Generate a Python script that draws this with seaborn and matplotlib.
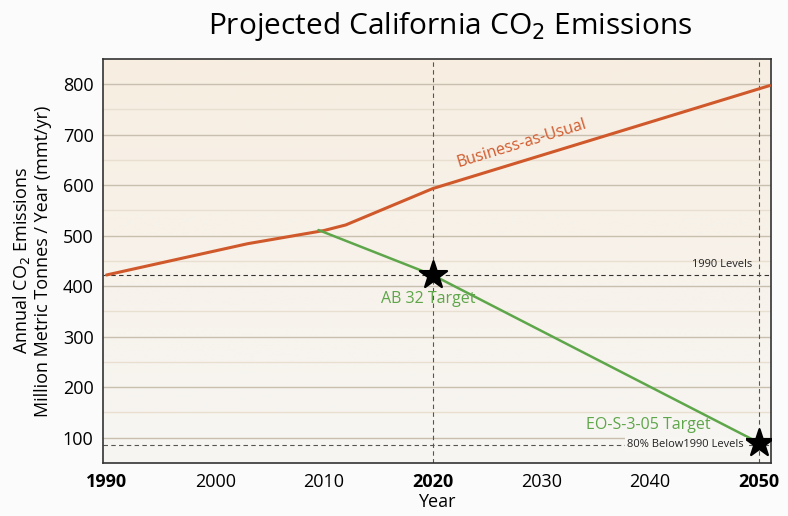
import numpy as np
import pandas as pd
import matplotlib
matplotlib.use('Agg')
import matplotlib.pyplot as plt
import seaborn as sns

# values
bau_years = [1990, 2003, 2010, 2012, 2020, 2051]
bau_values = [422, 484, 510, 521, 593, 797]
target_years = [2009.5, 2020, 2050]
target_values = [511, 422, 90]
star_years = [2020, 2050]
star_values = [422, 90]
level_1990 = 422
level_80pct = 86
year_ticks = [1990, 2000, 2010, 2020, 2030, 2040, 2050]
bold_years = [1990, 2020, 2050]
emission_ticks = [100, 200, 300, 400, 500, 600, 700, 800]

bau = pd.DataFrame({'Year': bau_years, 'Emissions': bau_values})
target = pd.DataFrame({'Year': target_years, 'Emissions': target_values})
stars = pd.DataFrame({'Year': star_years, 'Emissions': star_values})

sns.set_style('white')
plt.rcParams['font.family'] = ['Open Sans', 'DejaVu Sans']
plt.rcParams['text.color'] = 'black'
plt.rcParams['axes.labelcolor'] = 'black'
plt.rcParams['xtick.color'] = 'black'
plt.rcParams['ytick.color'] = 'black'

orange = '#d0592c'
green = '#5ea64a'

fig, ax = plt.subplots(figsize = (7.88, 5.16), dpi = 100)
fig.subplots_adjust(left = 0.131, right = 0.978, top = 0.886, bottom = 0.103)

ax.set_xlim(1989.7, 2051.1)
ax.set_ylim(50, 850)

# beige to white gradient behind the plot
grad = np.linspace(0, 1, 256).reshape(-1, 1)
cmap = matplotlib.colors.LinearSegmentedColormap.from_list('bg', ['#f7f6f3', '#f7eee1'])
ax.imshow(grad, aspect = 'auto', cmap = cmap, origin = 'lower',
          extent = (1989.7, 2051.1, 50, 850), zorder = 0)

# grid lines, darker at the hundreds
for v in np.arange(100, 850, 50):
    if v % 100 == 0:
        ax.axhline(v, color = '#c9bfae', lw = 1.0, zorder = 1)
    else:
        ax.axhline(v, color = '#e8dfd0', lw = 1.0, zorder = 1)

ax.axhline(level_1990, color = '#333333', lw = 0.8, ls = (0, (4, 3)), zorder = 2)
ax.axhline(level_80pct, color = '#555555', lw = 0.8, ls = (0, (4, 3)), zorder = 2)
for yr in star_years:
    ax.axvline(yr, color = '#555555', lw = 0.8, ls = (0, (4, 3)), zorder = 2)

sns.lineplot(data = bau, x = 'Year', y = 'Emissions', color = orange, lw = 2.2, ax = ax, zorder = 3)
sns.lineplot(data = target, x = 'Year', y = 'Emissions', color = green, lw = 1.8, ax = ax, zorder = 3)
sns.scatterplot(data = stars, x = 'Year', y = 'Emissions', marker = '*', s = 420, color = 'black',
                edgecolor = 'black', ax = ax, zorder = 4)

ax.text(2028.2, 682, 'Business-as-Usual', color = orange, fontsize = 11.5, rotation = 17,
        ha = 'center', va = 'center', zorder = 5)
ax.text(2019.6, 375, 'AB 32 Target', color = green, fontsize = 11.5, ha = 'center', va = 'center', zorder = 5)
ax.text(2039.8, 124, 'EO-S-3-05 Target', color = green, fontsize = 11.5, ha = 'center', va = 'center', zorder = 5)
ax.text(2049.4, 432, '1990 Levels', color = '#222222', fontsize = 8, ha = 'right', va = 'bottom', zorder = 5)
ax.text(2048.6, level_80pct, '80% Below1990 Levels', color = '#222222', fontsize = 8, ha = 'right',
        va = 'center', zorder = 5, bbox = dict(facecolor = '#f7f6f3', edgecolor = 'none', pad = 1.5))

ax.set_xticks(year_ticks)
ax.set_xticklabels([str(y) for y in year_ticks])
for lab, yr in zip(ax.get_xticklabels(), year_ticks):
    if yr in bold_years:
        lab.set_fontweight('bold')
ax.set_yticks(emission_ticks)
ax.tick_params(axis = 'both', labelsize = 13, length = 0, pad = 7)

ax.set_xlabel('Year', fontsize = 13, labelpad = 2)
ax.set_ylabel('Annual CO$_2$ Emissions\nMillion Metric Tonnes / Year (mmt/yr)', fontsize = 13,
              labelpad = 8, linespacing = 1.1)
ax.set_title('Projected California CO$_2$ Emissions', fontsize = 21.5, pad = 18, x = 0.52)

for sp in ax.spines.values():
    sp.set_color('#333333')
    sp.set_linewidth(1.2)

fig.patch.set_facecolor('#fbfbfb')
fig.savefig('out.png', dpi = 100, facecolor = fig.get_facecolor())
